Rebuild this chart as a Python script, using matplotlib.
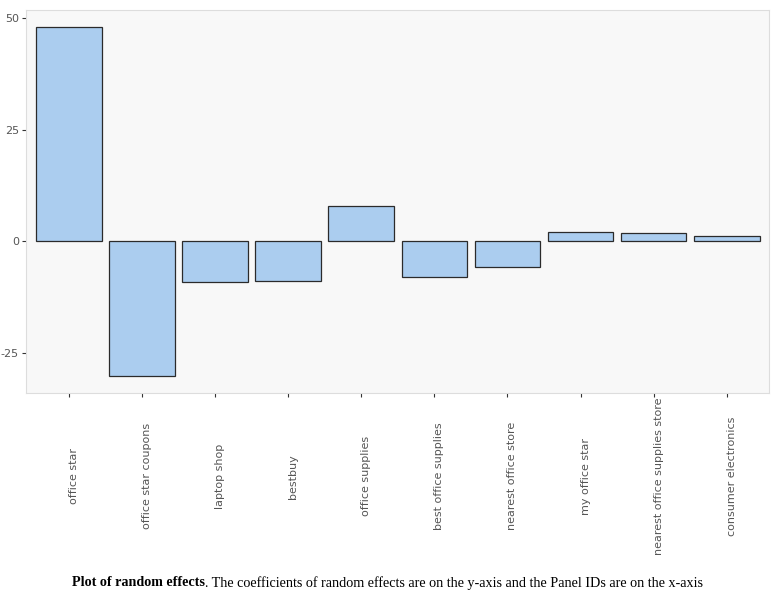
import matplotlib
matplotlib.use("Agg")
import matplotlib.pyplot as plt
from matplotlib.transforms import ScaledTranslation

categories = ["office star", "office star coupons", "laptop shop", "bestbuy",
              "office supplies", "best office supplies", "nearest office store",
              "my office star", "nearest office supplies store", "consumer electronics"]
values = [47.9, -30.2, -9.1, -8.9, 7.9, -8.0, -5.7, 2.1, 1.8, 1.2]
yticks = [-25, 0, 25, 50]

fig = plt.figure(figsize=(7.81, 6.02), dpi=100)
ax = fig.add_axes([26/781, 1 - 393/602, (769-26)/781, (393-10)/602])
ax.set_facecolor("#f8f8f8")
x = list(range(len(categories)))
ax.bar(x, values, width=0.9, color="#abcdef", edgecolor="#2b2b2b", linewidth=0.9, zorder=2)
ax.set_xlim(-0.59, 9.58)
ax.set_ylim(-34.0, 51.8)
ax.set_yticks(yticks)
ax.set_yticklabels([str(v) for v in yticks], fontsize=8, color="#555555")
ax.set_xticks(x)
ax.set_xticklabels(categories, rotation=90, va="center", ha="center", fontsize=8, color="#555555")
ax.tick_params(axis="x", length=3, width=0.8, color="#333333", pad=57)
ax.tick_params(axis="y", length=3, width=0.8, color="#333333", pad=2)
off = ScaledTranslation(5/100, 0, fig.dpi_scale_trans)
for lab in ax.get_xticklabels():
    lab.set_transform(lab.get_transform() + off)
for s in ax.spines.values():
    s.set_color("#dddddd")
    s.set_linewidth(0.8)

# caption with bold lead-in
fig.canvas.draw()
r = fig.canvas.get_renderer()
bold = "Plot of random effects"
rest = ". The coefficients of random effects are on the y-axis and the Panel IDs are on the x-axis"
t1 = fig.text(0, 0, bold, fontsize=10.2, fontweight="bold", family="Liberation Serif")
t2 = fig.text(0, 0, rest, fontsize=10.2, family="Liberation Serif")
w1 = t1.get_window_extent(r).width
w2 = t2.get_window_extent(r).width
W = fig.bbox.width
start = (W/2 - (w1 + w2)/2) - 3
yc = 1 - 583/602
t1.set_position((start / W, yc))
t2.set_position(((start + w1) / W, yc))
t1.set_va("center"); t2.set_va("center")

fig.savefig("out.png", dpi=100)
